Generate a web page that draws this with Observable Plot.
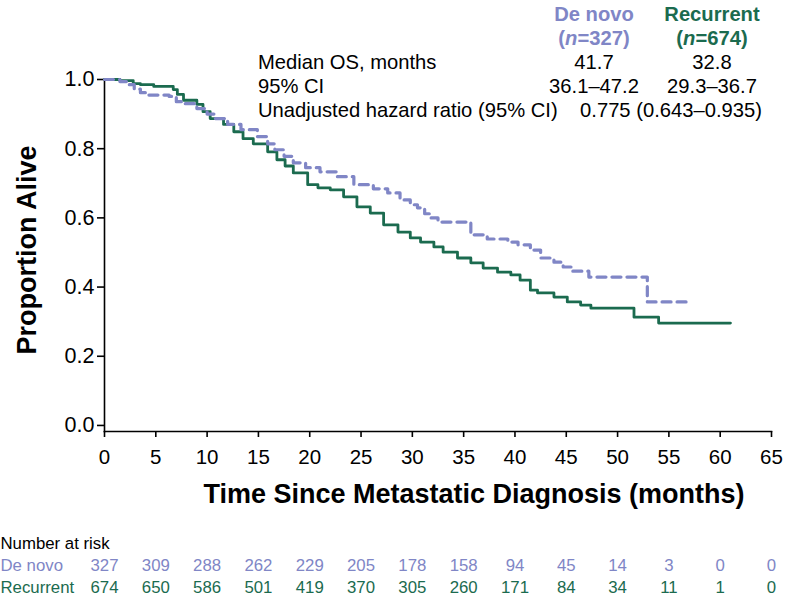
<!DOCTYPE html>
<html><head><meta charset="utf-8">
<script src="https://cdn.jsdelivr.net/npm/d3@7"></script>
<script src="https://cdn.jsdelivr.net/npm/@observablehq/plot@0.6"></script>
<style>
body{margin:0;background:#fff;font-family:"Liberation Sans",Arial,Helvetica,sans-serif;}
#chart{position:relative;width:786px;height:597px;overflow:hidden;background:#fff;}
#chart svg{position:absolute;left:0;}
.t{position:absolute;white-space:nowrap;color:#000;line-height:24px;height:24px;}
.c{text-align:center;width:240px;}
.b{font-weight:bold;}
</style></head><body><div id="chart"></div>
<script>
// ---- data ----
const groups = ["De novo", "Recurrent"];
const groupColors = ["#8086c6", "#1b6b4f"];
const groupN = ["327", "674"];

const deNovoTime = [0, 1.5, 2.3, 2.9, 3.5, 4.2, 6.3, 7, 7.6, 9, 10, 10.8, 12, 13.3, 14.9, 15.9, 16.6, 17.5, 18.4, 19.6, 21, 22.7, 24.3, 26.2, 27.6, 28.8, 29.8, 30.5, 31.2, 31.8, 32.5, 35.7, 37.3, 39.3, 40.3, 41.5, 42.5, 43.8, 44.7, 45.6, 47.2, 52.9, 57.1];
const deNovoSurv = [1.0, 0.994, 0.985, 0.972, 0.962, 0.955, 0.951, 0.936, 0.93, 0.916, 0.900, 0.887, 0.870, 0.855, 0.835, 0.814, 0.797, 0.778, 0.759, 0.745, 0.733, 0.719, 0.696, 0.684, 0.672, 0.652, 0.638, 0.629, 0.612, 0.600, 0.588, 0.551, 0.539, 0.530, 0.522, 0.507, 0.484, 0.472, 0.458, 0.446, 0.429, 0.357, 0.357];

const recurrentTime = [0, 1.5, 2.8, 3.5, 4.8, 6.7, 7.1, 7.7, 9, 9.6, 10.3, 11.6, 12.6, 13.5, 14.5, 15.9, 16.8, 17.6, 18.4, 19.8, 20.8, 22, 23.3, 24.6, 25.9, 27.2, 28.6, 29.8, 30.8, 32.1, 33, 34.4, 35.7, 36.9, 38.3, 39.6, 40.5, 41.5, 42.2, 43.8, 45.1, 46.4, 47.4, 51.6, 54, 61];
const recurrentSurv = [1.0, 0.997, 0.988, 0.985, 0.980, 0.971, 0.957, 0.940, 0.928, 0.907, 0.887, 0.870, 0.849, 0.829, 0.814, 0.791, 0.768, 0.750, 0.730, 0.696, 0.687, 0.681, 0.661, 0.632, 0.614, 0.580, 0.559, 0.542, 0.530, 0.516, 0.501, 0.484, 0.470, 0.455, 0.443, 0.435, 0.420, 0.391, 0.383, 0.371, 0.357, 0.348, 0.339, 0.313, 0.296, 0.296];

const xTicks = [0, 5, 10, 15, 20, 25, 30, 35, 40, 45, 50, 55, 60, 65];
const yTicks = [0.0, 0.2, 0.4, 0.6, 0.8, 1.0];

const riskTitle = "Number at risk";
const riskDeNovo = [327, 309, 288, 262, 229, 205, 178, 158, 94, 45, 14, 3, 0, 0];
const riskRecurrent = [674, 650, 586, 501, 419, 370, 305, 260, 171, 84, 34, 11, 1, 0];

const statLabels = ["Median OS, months", "95% CI", "Unadjusted hazard ratio (95% CI)"];
const medianOS = ["41.7", "32.8"];
const medianCI = ["36.1–47.2", "29.3–36.7"];
const hazardRatio = "0.775 (0.643–0.935)";

const xLabel = "Time Since Metastatic Diagnosis (months)";
const yLabel = "Proportion Alive";

// ---- build ----
const FONT = '"Liberation Sans", Arial, Helvetica, sans-serif';
const chart = document.getElementById("chart");

const curves = [
  ...deNovoTime.map((t, i) => ({group: groups[0], t, s: deNovoSurv[i]})),
  ...recurrentTime.map((t, i) => ({group: groups[1], t, s: recurrentSurv[i]}))
];

const yMin = -0.0175;
const main = Plot.plot({
  width: 786, height: 470,
  marginTop: 79, marginLeft: 104, marginRight: 15, marginBottom: 39,
  style: {fontFamily: FONT, fontSize: "20px", color: "#000", background: "transparent", overflow: "visible"},
  x: {domain: [0, 65]},
  y: {domain: [yMin, 1]},
  marks: [
    Plot.frame({anchor: "left", stroke: "#000", strokeWidth: 1.6}),
    Plot.frame({anchor: "bottom", stroke: "#000", strokeWidth: 1.6}),
    Plot.axisX({ticks: xTicks, tickSize: 6, tickPadding: 12, label: null, fontSize: 20.5, strokeWidth: 1.6}),
    Plot.axisY({ticks: yTicks, tickSize: 7, tickPadding: 3, tickFormat: d3.format(".1f"), label: null, fontSize: 21.5, strokeWidth: 1.6}),
    Plot.line(curves.filter(d => d.group === groups[1]), {x: "t", y: "s", curve: "step-after", stroke: groupColors[1], strokeWidth: 2.8}),
    Plot.line(curves.filter(d => d.group === groups[0]), {x: "t", y: "s", curve: "step-after", stroke: groupColors[0], strokeWidth: 3.2, strokeDasharray: "9,6"})
  ]
});
main.style.top = "0px";
chart.appendChild(main);

const riskRows = [riskTitle, ...groups];
const riskData = xTicks.flatMap((t, i) => [
  {group: groups[0], t, n: riskDeNovo[i]},
  {group: groups[1], t, n: riskRecurrent[i]}
]);
const risk = Plot.plot({
  width: 786, height: 67, margin: 0,
  style: {fontFamily: FONT, fontSize: "16.5px", background: "transparent", overflow: "visible"},
  x: {domain: [0, 65], range: [104, 771], axis: null},
  y: {type: "point", domain: riskRows, range: [12, 57], padding: 0, axis: null},
  color: {domain: riskRows, range: ["#000", ...groupColors]},
  marks: [
    Plot.text(riskRows, {y: d => d, text: d => d, fill: d => d, frameAnchor: "left", textAnchor: "start", fontSize: "16.8px"}),
    Plot.text(riskData, {x: "t", y: "group", text: "n", fill: "group", fontSize: "16.8px"})
  ]
});
risk.style.top = "530px";
chart.appendChild(risk);

// ---- text overlays ----
function addText(html, opts) {
  const d = document.createElement("div");
  d.className = "t" + (opts.cls ? " " + opts.cls : "");
  d.innerHTML = html;
  Object.assign(d.style, opts.style || {});
  chart.appendChild(d);
  return d;
}
// axis titles
addText(xLabel, {cls: "b", style: {left: "474px", top: "494px", fontSize: "27px", lineHeight: "30px", height: "30px", transform: "translate(-50%,-50%)"}});
addText(yLabel, {cls: "b", style: {left: "27px", top: "250px", fontSize: "27px", lineHeight: "30px", height: "30px", transform: "translate(-50%,-50%) rotate(-90deg)"}});

// header table
const rowY = [14, 38, 62, 86, 110];
const colX = [594, 712];
const hdrFont = "20.2px";
groups.forEach((g, i) => {
  addText(g, {cls: "b c", style: {left: (colX[i] - 120) + "px", top: (rowY[0] - 12) + "px", color: groupColors[i], fontSize: hdrFont}});
  addText("(<i>n</i>=" + groupN[i] + ")", {cls: "b c", style: {left: (colX[i] - 120) + "px", top: (rowY[1] - 12) + "px", color: groupColors[i], fontSize: hdrFont}});
  addText(medianOS[i], {cls: "c", style: {left: (colX[i] - 120) + "px", top: (rowY[2] - 12) + "px", fontSize: hdrFont}});
  addText(medianCI[i], {cls: "c", style: {left: (colX[i] - 120) + "px", top: (rowY[3] - 12) + "px", fontSize: hdrFont}});
});
statLabels.forEach((s, i) => {
  addText(s, {style: {left: "258px", top: (rowY[2 + i] - 12) + "px", fontSize: hdrFont}});
});
addText(hazardRatio, {cls: "c", style: {left: (671 - 120) + "px", top: (rowY[4] - 12) + "px", fontSize: hdrFont}});
</script></body></html>
